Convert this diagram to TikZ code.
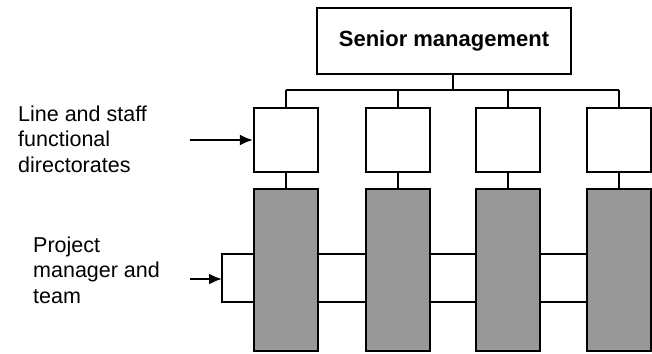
\documentclass[tikz,border=0pt]{standalone}
\usepackage{fontspec}
\setmainfont{Liberation Sans}
\usetikzlibrary{arrows.meta}
\definecolor{teamgrey}{RGB}{152,152,152}

\begin{document}
\begin{tikzpicture}[x=1pt,y=-1pt,
    mgmt/.style={draw,line width=2.4pt,minimum width=254pt,minimum height=66pt,font=\fontsize{22}{26}\selectfont\bfseries},
    dirbox/.style={draw,line width=2.2pt,minimum width=64pt,minimum height=64pt,inner sep=0pt},
    teambox/.style={draw,line width=2.2pt,fill=teamgrey,minimum width=64pt,minimum height=162pt,inner sep=0pt},
    link/.style={line width=1.8pt},
    busline/.style={line width=2.8pt},
    feed/.style={line width=2.2pt,-{Latex[length=13pt,width=11pt]}},
    side/.style={anchor=north west,inner sep=0pt,align=left,font=\fontsize{21.5}{25.7}\selectfont}]
  \useasboundingbox (0,0) rectangle (652,353);
  % Senior management
  \node[mgmt] (senior) at (444,41) {Senior management};
  \coordinate (bus) at (453,90);
  % Directorates and project columns
  \foreach \i/\x in {1/286,2/398,3/508,4/619} {
    \node[dirbox] (dir\i) at (\x,140) {};
    \node[teambox] (proj\i) at (\x,270) {};
    \draw[link] (dir\i.south) -- (proj\i.north);
    \draw[link] (dir\i.north |- bus) -- (dir\i.north);
  }
  % Bus line
  \draw[link] (bus |- senior.south) -- (bus);
  \draw[busline] (dir1.north |- bus) -- (dir4.north |- bus);
  % Project team band
  \coordinate (bandtop) at (0,254);
  \coordinate (bandbot) at (0,302);
  \coordinate (team) at (222,279);
  \draw[line width=2.2pt] (proj1.west |- bandtop) -- (team |- bandtop) -- (team |- bandbot) -- (proj1.west |- bandbot);
  \foreach \a/\b in {1/2,2/3,3/4} {
    \draw[line width=1.6pt] (proj\a.east |- bandtop) -- (proj\b.west |- bandtop);
    \draw[line width=2.8pt] (proj\a.east |- bandbot) -- (proj\b.west |- bandbot);
  }
  % Labels and arrows
  \node[side] (dirlabel) at (18,105.5) {Line and staff\\functional\\directorates};
  \node[side] (teamlabel) at (33,236.5) {Project\\manager and\\team};
  \coordinate (dirfeed) at (190,140);
  \coordinate (teamfeed) at (190,279);
  \draw[feed] (dirfeed) -- (dir1.west);
  \draw[feed] (teamfeed) -- (team);
\end{tikzpicture}
\end{document}
